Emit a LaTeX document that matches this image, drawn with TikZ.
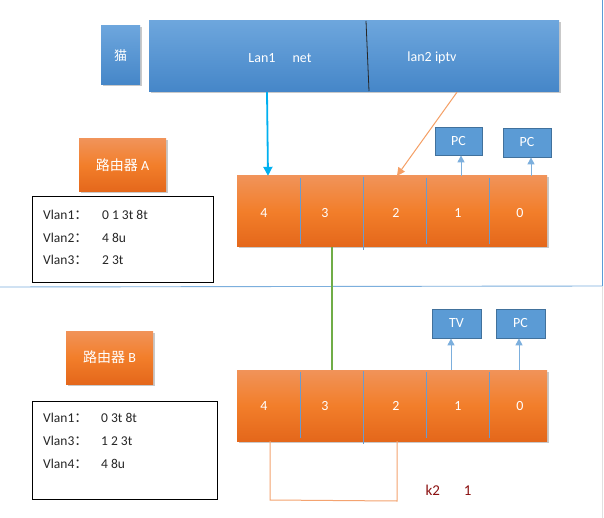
\documentclass[tikz,border=0pt]{standalone}
\usepackage{fontspec}
\setmainfont{Carlito}
\newfontfamily\cjk{Noto Sans CJK SC}
\usetikzlibrary{shadows,arrows.meta}
\definecolor{bluetop}{HTML}{6DA6DD}
\definecolor{bluebot}{HTML}{4586C8}
\definecolor{blueedge}{HTML}{41719C}
\definecolor{pcblue}{HTML}{5B9BD5}
\definecolor{ortop}{HTML}{F19359}
\definecolor{ormid}{HTML}{F27E2A}
\definecolor{orbot}{HTML}{E4671B}
\definecolor{divblue}{HTML}{6A9BD0}
\definecolor{sepblue}{HTML}{5B9BD5}
\definecolor{cyanarr}{HTML}{00B0F0}
\definecolor{orline}{HTML}{F4A370}
\definecolor{greenl}{HTML}{70AD47}
\definecolor{darkred}{HTML}{8B1010}
\newcommand{\fcolon}{{\cjk ：}}
\tikzset{
  bluebox/.style={rectangle, top color=bluetop, bottom color=bluebot, draw=none,
    drop shadow={shadow xshift=1.5pt, shadow yshift=-1.5pt, opacity=0.35, fill=black!60},
    text=white, inner sep=0pt, font=\fontsize{14}{16}\selectfont},
  orbox/.style={rectangle, top color=ortop, bottom color=orbot, middle color=ormid, draw=none,
    drop shadow={shadow xshift=1.5pt, shadow yshift=-1.5pt, opacity=0.35, fill=black!60},
    text=white, inner sep=0pt},
  pcbox/.style={rectangle, fill=pcblue, draw=blueedge, line width=0.8pt, text=white,
    inner sep=0pt, font=\fontsize{14}{16}\selectfont},
  port/.style={rectangle, minimum width=63pt, minimum height=71pt, inner sep=0pt,
    text=white, font=\fontsize{14}{16}\selectfont},
  plabel/.style={text=white, font=\fontsize{14}{16}\selectfont},
  vlanbox/.style={rectangle, draw=black, line width=0.9pt, fill=white, inner sep=0pt},
  vtxt/.style={anchor=west, text=black!85, font=\fontsize{13.5}{15}\selectfont, inner sep=0pt},
  divider/.style={draw=divblue, line width=0.7pt},
  uparrow/.style={draw=pcblue!80, line width=1pt, -{Triangle[length=7pt,width=7pt]}},
}
\begin{document}
\begin{tikzpicture}[x=1pt,y=-1pt]
\useasboundingbox (0,0) rectangle (604,518);
\fill[white] (0,0) rectangle (604,518);
% page separators
\coordinate (vt) at (602,0);
\coordinate (vm) at (602,286);
\coordinate (vb) at (602,518);
\coordinate (hl) at (0,287);
\draw[sepblue, line width=0.9pt] (vt) -- (vm);
\draw[black!12, line width=0.8pt] (vm) -- (vb);
\draw[sepblue!80, line width=0.9pt] (hl) -- (vm);

% modem and upstream box
\node[bluebox, minimum width=39pt, minimum height=59pt, font=\cjk\fontsize{13}{15}\selectfont] (cat) at (120.5,55.5) {猫};
\node[bluebox, minimum width=410pt, minimum height=71pt] (up) at (354,56.5) {};
\coordinate (dtop) at (366,21);
\coordinate (dbot) at (369,91);
\draw[black!85, line width=0.8pt] (dtop) -- (dbot);
\node[text=white, font=\fontsize{14}{16}\selectfont] (lan1) at (280,58) {Lan1\quad\ net};
\node[text=white, font=\fontsize{14}{16}\selectfont] (lan2) at (432,58) {lan2 iptv};

% Router A
\node[orbox, minimum width=87pt, minimum height=53pt, font=\cjk\fontsize{14}{16}\selectfont] (ra) at (122.5,165.5) {路由器 \fontspec{Carlito}A};
\node[vlanbox, minimum width=181pt, minimum height=86pt] (va) at (122.5,239) {};
\node[vtxt] (va1) at (43,215) {Vlan1\fcolon};
\node[vtxt] (va2) at (43,238) {Vlan2\fcolon};
\node[vtxt] (va3) at (43,260) {Vlan3\fcolon};
\node[vtxt] (vb1a) at (102,215) {0 1 3t 8t};
\node[vtxt] (vb2a) at (102,238) {4 8u};
\node[vtxt] (vb3a) at (102,260) {2 3t};

\node[orbox, minimum width=310pt, minimum height=71pt] (barA) at (392,211.5) {};
\node[port, minimum width=63pt] (pA4) at (268.5,211.5) {};
\node[port, minimum width=63pt] (pA3) at (331.5,211.5) {};
\node[port, minimum width=63pt] (pA2) at (394.5,211.5) {};
\node[port, minimum width=63pt] (pA1) at (457.5,211.5) {};
\node[port, minimum width=58pt] (pA0) at (518,211.5) {};
\node[plabel] (lA4) at (264,213) {4};
\node[plabel] (lA3) at (325,213) {3};
\node[plabel] (lA2) at (396,213) {2};
\node[plabel] (lA1) at (458,213) {1};
\node[plabel] (lA0) at (520,213) {0};
\draw[divider] (300,178) -- (300,244);
\draw[divider] (363,177) -- (363,250);
\draw[divider] (426,178) -- (426,244);
\draw[divider] (489,178) -- (489,244);

\node[pcbox, minimum width=47pt, minimum height=28pt] (pcA1) at (458.5,141) {\raisebox{-4pt}{PC}};
\node[pcbox, minimum width=48pt, minimum height=29pt] (pcA2) at (527,142.5) {\raisebox{-4pt}{PC}};
\draw[uparrow] (pA1.north -| 461,0) -- (pcA1.south -| 461,0);
\draw[uparrow] (pA0.north -| 531,0) -- (pcA2.south -| 531,0);

% uplinks
\draw[cyanarr, line width=1.8pt, -{Triangle[length=9pt,width=9pt]}] (up.south -| 267,0) -- (pA4.north -| 268,0);
\draw[orline!90!orange, line width=1pt, -{Triangle[length=8pt,width=8pt]}] (up.south -| 457,0) -- (pA2.north -| 397,0);

% Router B
\node[orbox, minimum width=87pt, minimum height=53pt, font=\cjk\fontsize{14}{16}\selectfont] (rb) at (109.5,357.5) {路由器 \fontspec{Carlito}B};
\node[vlanbox, minimum width=185pt, minimum height=98pt] (vb) at (124.5,450) {};
\node[vtxt] (vbl1) at (43,418) {Vlan1\fcolon};
\node[vtxt] (vbl2) at (43,441) {Vlan3\fcolon};
\node[vtxt] (vbl3) at (43,464) {Vlan4\fcolon};
\node[vtxt] (vbr1) at (101,418) {0 3t 8t};
\node[vtxt] (vbr2) at (101,441) {1 2 3t};
\node[vtxt] (vbr3) at (101,464) {4 8u};

\node[orbox, minimum width=310pt, minimum height=71pt] (barB) at (392,405.5) {};
\node[port, minimum width=63pt] (pB4) at (268.5,405.5) {};
\node[port, minimum width=63pt] (pB3) at (331.5,405.5) {};
\node[port, minimum width=63pt] (pB2) at (394.5,405.5) {};
\node[port, minimum width=63pt] (pB1) at (457.5,405.5) {};
\node[port, minimum width=58pt] (pB0) at (518,405.5) {};
\node[plabel] (lB4) at (264,406) {4};
\node[plabel] (lB3) at (325,406) {3};
\node[plabel] (lB2) at (396,406) {2};
\node[plabel] (lB1) at (458,406) {1};
\node[plabel] (lB0) at (520,406) {0};
\draw[divider] (300,372) -- (300,438);
\draw[divider] (363,371) -- (363,444);
\draw[divider] (426,372) -- (426,438);
\draw[divider] (489,372) -- (489,438);

\node[pcbox, minimum width=49pt, minimum height=29pt] (tvB) at (456.5,323.5) {TV};
\node[pcbox, minimum width=49pt, minimum height=29pt] (pcB) at (520.5,323.5) {PC};
\draw[uparrow] (pB1.north -| 451,0) -- (tvB.south -| 451,0);
\draw[uparrow] (pB0.north -| 519,0) -- (pcB.south -| 519,0);

% A-B link
\draw[greenl, line width=1.2pt] (pA3.south -| 332,0) -- (pB3.north -| 332,0);

% loop between B4 and B2
\coordinate (lb1) at (270,500);
\coordinate (lb2) at (397,501);
\draw[orline, line width=1pt] (pB4.south -| 270,0) -- (lb1) -- (lb2) -- (pB2.south -| 397,0);

\node[text=darkred, font=\fontsize{15}{17}\selectfont, anchor=west] (k2) at (422,490) {k2\hspace{1.6em}1};
\end{tikzpicture}
\end{document}
